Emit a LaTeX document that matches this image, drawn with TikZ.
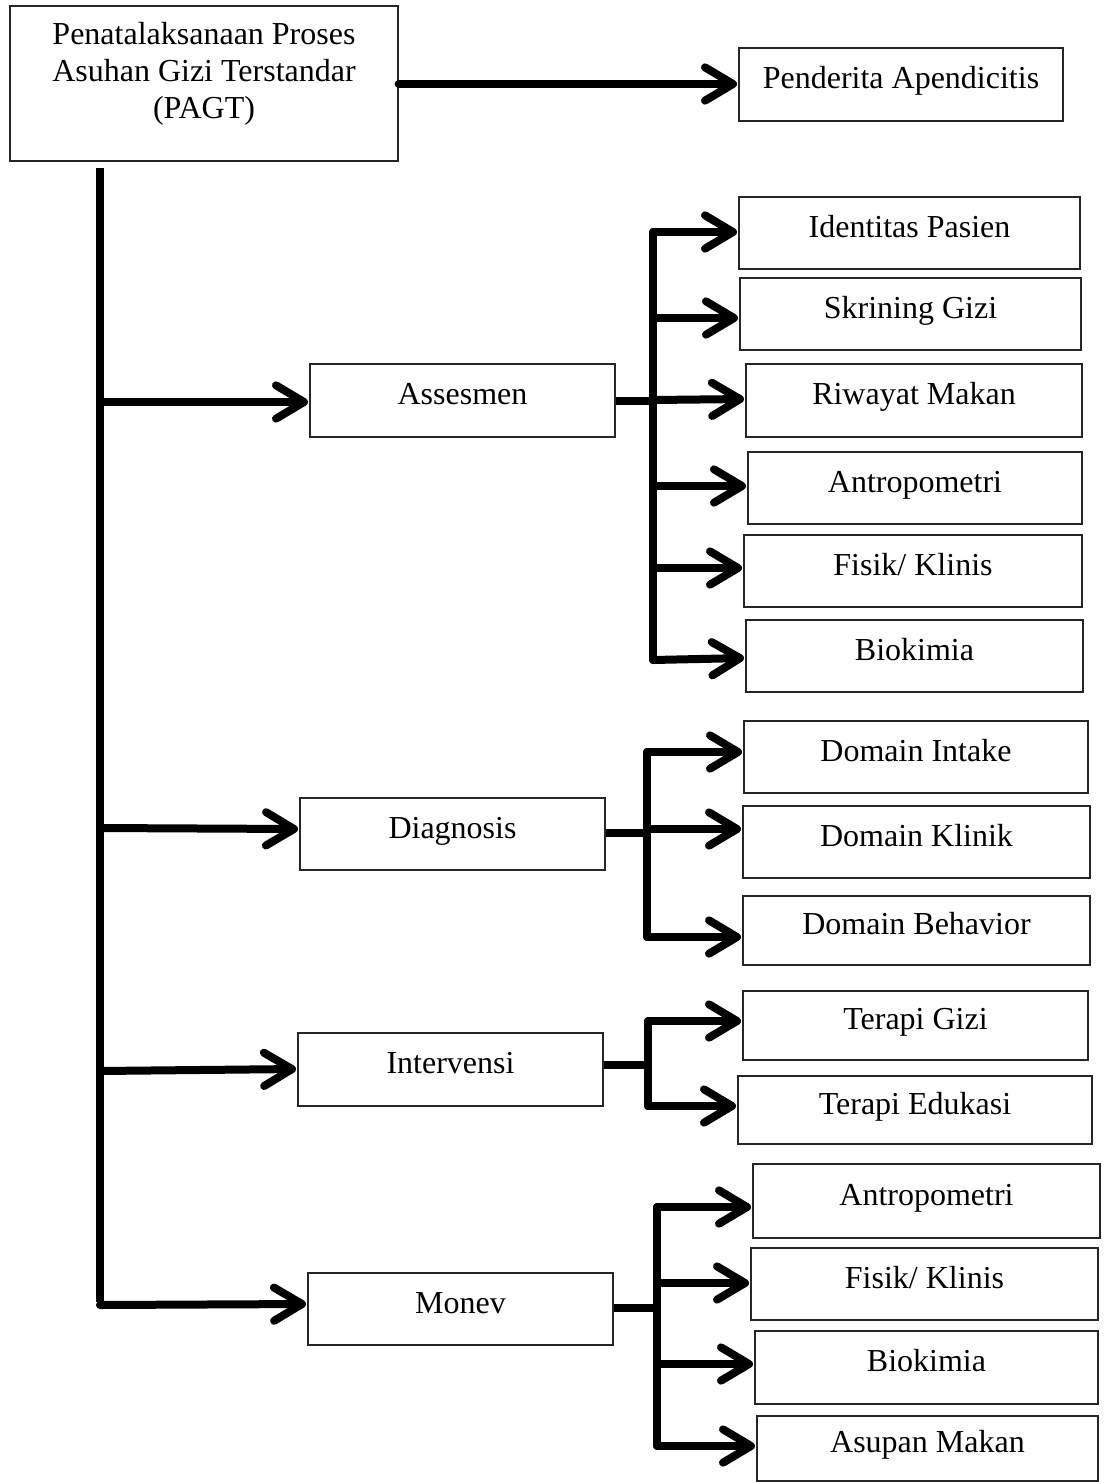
\documentclass[tikz,border=0pt]{standalone}
\usepackage{fontspec}
\setmainfont{Liberation Serif}
\usetikzlibrary{arrows.meta}
\tikzset{
  box/.style={draw=black!85, line width=1pt, rectangle, fill=white, align=center, font=\fontsize{24}{27.75}\selectfont, inner sep=0pt},
  onel/.style={text height=16pt, text depth=10pt},
  sz/.style 2 args={minimum width=#1*0.75pt, minimum height=#2*0.75pt},
  conn/.style={line width=6pt, line cap=round, line join=round},
  arr/.style={conn, -{Straight Barb[length=21pt, width=25pt, line cap=round, line join=round]}, shorten >=1pt},
}
\begin{document}
\begin{tikzpicture}[x=0.75pt, y=-0.75pt]
\useasboundingbox (0,0) rectangle (1104,1482);
% nodes
\node[box, sz={388}{155}] (pagt) at (204,83.5) {Penatalaksanaan Proses\\Asuhan Gizi Terstandar\\(PAGT)\\[-17pt]\strut};
\node[box, onel, sz={324}{73}] (pend) at (901,84.5) {Penderita Apendicitis};

\node[box, onel, sz={305}{73}] (ases) at (462.5,400.5) {Assesmen};
\node[box, onel, sz={341}{72}] (iden) at (909.5,233) {Identitas Pasien};
\node[box, onel, sz={341}{72}] (skr) at (910.5,314) {Skrining Gizi};
\node[box, onel, sz={336}{73}] (riw) at (914,400.5) {Riwayat Makan};
\node[box, onel, sz={334}{72}] (antA) at (915,488) {Antropometri};
\node[box, onel, sz={338}{72}] (fisA) at (913,571) {Fisik/ Klinis};
\node[box, onel, sz={337}{72}] (bioA) at (914.5,656) {Biokimia};

\node[box, onel, sz={305}{72}] (diag) at (452.5,834) {Diagnosis};
\node[box, onel, sz={344}{72}] (dint) at (916,757) {Domain Intake};
\node[box, onel, sz={347}{72}] (dkli) at (916.5,842) {Domain Klinik};
\node[box, onel, sz={347}{69}] (dbeh) at (916.5,930.5) {Domain Behavior};

\node[box, onel, sz={305}{73}] (intv) at (450.5,1069.5) {Intervensi};
\node[box, onel, sz={345}{69}] (tgiz) at (915.5,1025.5) {Terapi Gizi};
\node[box, onel, sz={354}{68}] (tedu) at (915,1110) {Terapi Edukasi};

\node[box, onel, sz={305}{72}] (monv) at (460.5,1309) {Monev};
\node[box, onel, sz={347}{74}] (antM) at (926.5,1201) {Antropometri};
\node[box, onel, sz={347}{72}] (fisM) at (924.5,1284) {Fisik/ Klinis};
\node[box, onel, sz={343}{73}] (bioM) at (926.5,1367.5) {Biokimia};
\node[box, onel, sz={341}{65}] (asup) at (927.5,1448.5) {Asupan Makan};

% coordinates
\coordinate (ttop) at (100,168);
\coordinate (tbot) at (100,1302);
\coordinate (aTop) at (653,232);
\coordinate (aBot) at (653,660);
\coordinate (dTop) at (647,752);
\coordinate (dBot) at (647,937);
\coordinate (iTop) at (648,1021);
\coordinate (iBot) at (648,1106);
\coordinate (mTop) at (657,1207);
\coordinate (mBot) at (657,1446);

% connectors
\draw[arr] (pagt.east |- 0,84) -- (pend.west |- 0,84);
\draw[conn, line cap=butt] (ttop) -- (tbot);
\draw[arr] (100,402) -- (ases.west |- 0,402);
\draw[arr] (100,828) -- (diag.west |- 0,829);
\draw[arr] (100,1071) -- (intv.west |- 0,1069);
\draw[arr] (100,1305) -- (monv.west |- 0,1304);

% Assesmen branch
\draw[conn, line cap=butt] (ases.east |- 0,401) -- (aTop |- 0,401);
\draw[conn] (aTop) -- (aBot);
\draw[arr] (aTop) -- (iden.west |- aTop);
\draw[arr] (aTop |- 0,318) -- (skr.west |- 0,318);
\draw[arr] (aTop |- 0,400) -- (riw.west |- 0,399);
\draw[arr] (aTop |- 0,486) -- (antA.west |- 0,486);
\draw[arr] (aTop |- 0,568) -- (fisA.west |- 0,568);
\draw[arr] (aBot) -- (bioA.west |- 0,658);

% Diagnosis branch
\draw[conn, line cap=butt] (diag.east |- 0,833) -- (dTop |- 0,833);
\draw[conn] (dTop) -- (dBot);
\draw[arr] (dTop) -- (dint.west |- dTop);
\draw[arr] (dTop |- 0,829) -- (dkli.west |- 0,829);
\draw[arr] (dBot) -- (dbeh.west |- dBot);

% Intervensi branch
\draw[conn, line cap=butt] (intv.east |- 0,1065) -- (iTop |- 0,1065);
\draw[conn] (iTop) -- (iBot);
\draw[arr] (iTop) -- (tgiz.west |- iTop);
\draw[arr] (iBot) -- (tedu.west |- iBot);

% Monev branch
\draw[conn, line cap=butt] (monv.east |- 0,1308) -- (mTop |- 0,1308);
\draw[conn] (mTop) -- (mBot);
\draw[arr] (mTop) -- (antM.west |- mTop);
\draw[arr] (mTop |- 0,1283) -- (fisM.west |- 0,1283);
\draw[arr] (mTop |- 0,1364) -- (bioM.west |- 0,1364);
\draw[arr] (mBot) -- (asup.west |- mBot);
\end{tikzpicture}
\end{document}
